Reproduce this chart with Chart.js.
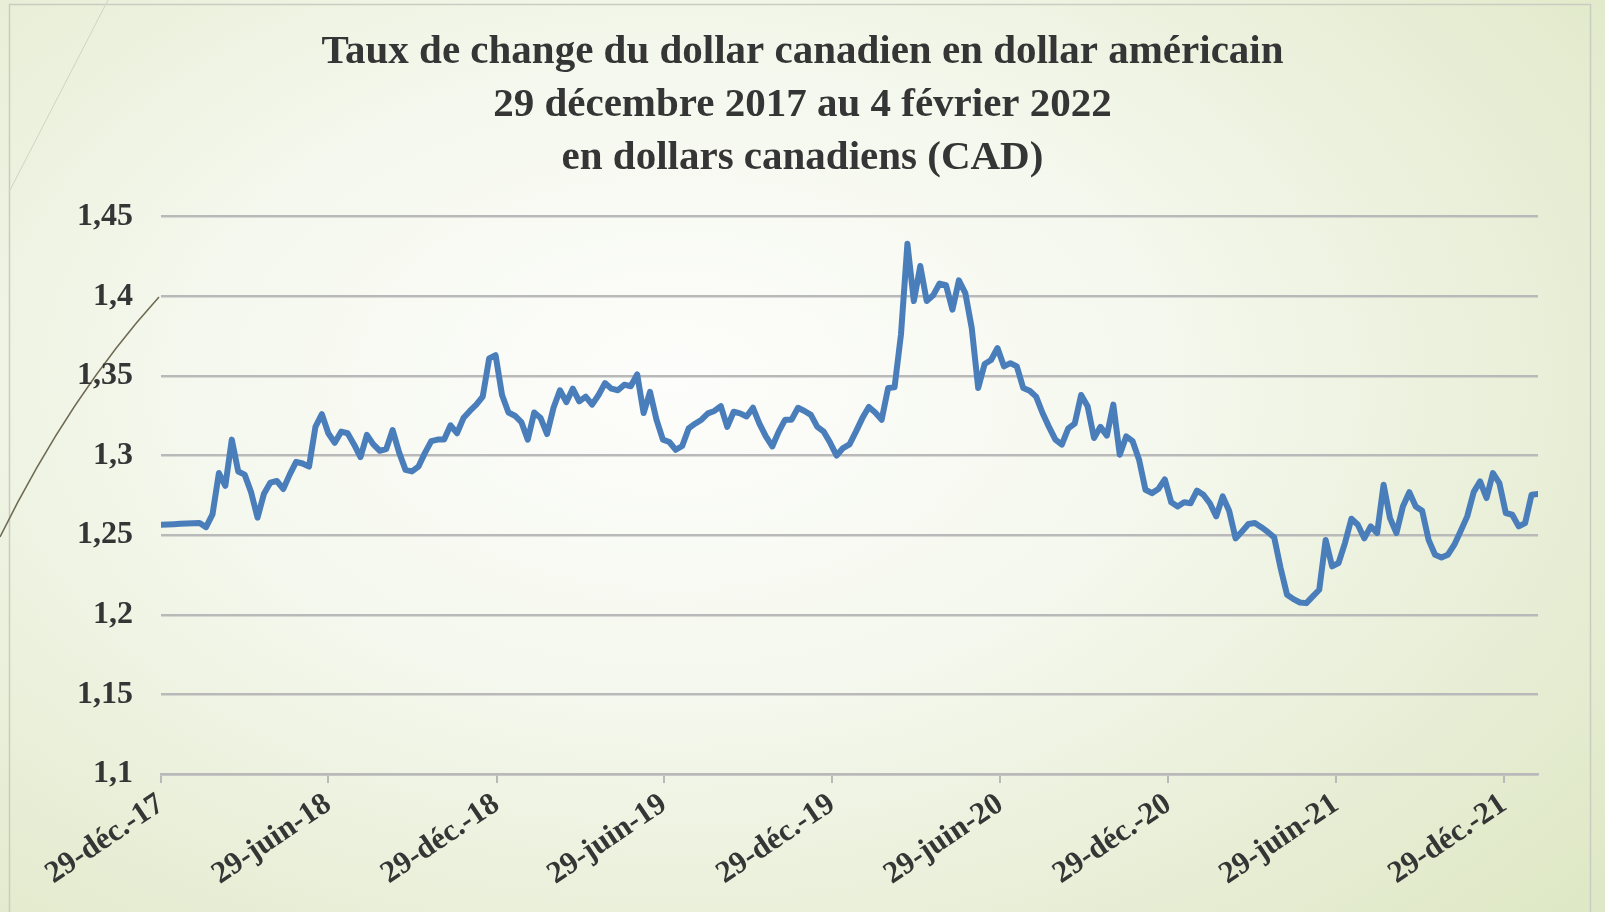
<!DOCTYPE html>
<html lang="fr">
<head>
<meta charset="utf-8">
<title>Taux de change CAD / USD</title>
<script src="https://cdn.jsdelivr.net/npm/chart.js@4/dist/chart.umd.min.js"></script>
<style>
  html, body { margin: 0; padding: 0; }
  body {
    width: 1605px; height: 912px; overflow: hidden;
    background: radial-gradient(ellipse 75% 85% at 42% 42%, #fdfdfb 0%, #f5f8ee 40%, #e8eed6 75%, #dfe8c6 100%);
  }
  .frame { position: relative; width: 1605px; height: 912px; }
</style>
</head>
<body>
<div class="frame"><canvas id="fx"></canvas></div>
<script>
/* Taux de change CAD/USD, hebdomadaire, 29 déc. 2017 -> 4 févr. 2022 */

// ── Data ───────────────────────────────────────────────────────────────────

const START_DATE = '2017-12-29';   // first weekly observation
const END_DATE   = '2022-02-04';   // last weekly observation

const rates = [
  1.2565, 1.2567, 1.2569, 1.2571, 1.2573, 1.2575, 1.2576, 1.255, 1.263, 1.289,
  1.281, 1.310, 1.290, 1.288, 1.277, 1.261, 1.276, 1.283, 1.284, 1.279,
  1.288, 1.296, 1.295, 1.293, 1.318, 1.326, 1.314, 1.308, 1.315, 1.314,
  1.307, 1.299, 1.313, 1.307, 1.303, 1.304, 1.316,
  1.302, 1.291, 1.290, 1.293, 1.3015, 1.309, 1.310, 1.310, 1.319, 1.314,
  1.3235, 1.328, 1.332, 1.337, 1.361, 1.363, 1.338, 1.327, 1.325, 1.321,
  1.310, 1.327, 1.3235, 1.3135, 1.330, 1.341, 1.3335, 1.342, 1.334, 1.337,
  1.332, 1.338, 1.3455, 1.342, 1.341,
  1.3445, 1.3435, 1.351, 1.3267, 1.340, 1.3225, 1.310, 1.3085, 1.3036, 1.306,
  1.317, 1.320, 1.3225, 1.3265, 1.328, 1.331, 1.318, 1.3275, 1.3265, 1.3245,
  1.330, 1.320, 1.312, 1.3057, 1.315, 1.3225, 1.3225, 1.330, 1.328, 1.3255,
  1.318, 1.315, 1.308, 1.300, 1.3047, 1.307,
  1.315, 1.3235, 1.3305, 1.327, 1.3225, 1.3424, 1.3428, 1.376, 1.433, 1.397,
  1.419, 1.397, 1.4006, 1.408, 1.407, 1.3916, 1.410, 1.402, 1.380, 1.3424,
  1.3575, 1.360, 1.3675, 1.356, 1.358, 1.356, 1.3424, 1.3407, 1.337, 1.3267,
  1.318, 1.310, 1.3068, 1.317, 1.320, 1.338,
  1.331, 1.311, 1.318, 1.3125, 1.332, 1.3005, 1.312, 1.309, 1.2974, 1.2785,
  1.2764, 1.279, 1.285, 1.2706, 1.268, 1.2706, 1.270, 1.278, 1.2754, 1.270,
  1.2618, 1.2743, 1.2653, 1.248, 1.2523, 1.257, 1.2576, 1.255, 1.252, 1.2486,
  1.2293, 1.2126, 1.2098, 1.2077, 1.2073, 1.2115,
  1.2157, 1.247, 1.2304, 1.2325, 1.245, 1.2603, 1.2565, 1.248, 1.2555, 1.2513,
  1.2817, 1.2607, 1.2513, 1.268, 1.277, 1.268, 1.2653, 1.247, 1.2377, 1.236,
  1.2377, 1.244, 1.2528, 1.2618, 1.277, 1.2838, 1.2733, 1.289, 1.2827, 1.2639,
  1.2628, 1.2555, 1.2576, 1.2754, 1.2758
];

const tickDates  = ['2017-12-29', '2018-06-29', '2018-12-29', '2019-06-29', '2019-12-29',
                    '2020-06-29', '2020-12-29', '2021-06-29', '2021-12-29'];
const tickLabels = ['29-déc.-17', '29-juin-18', '29-déc.-18', '29-juin-19', '29-déc.-19',
                    '29-juin-20', '29-déc.-20', '29-juin-21', '29-déc.-21'];

const yTicks = { min: 1.1, max: 1.45, step: 0.05 };

const titleLines = [
  'Taux de change du dollar canadien en dollar américain',
  '29 décembre 2017 au 4 février 2022',
  'en dollars canadiens (CAD)'
];

// ── Helpers ────────────────────────────────────────────────────────────────

const DAY = 86400000;
const dayOf = (iso) => Math.round((Date.parse(iso) - Date.parse(START_DATE)) / DAY);
const lastDay = dayOf(END_DATE);
const points  = rates.map((v, i) => ({ x: i * 7, y: v }));   // weekly series
const tickDays = tickDates.map(dayOf);

const SERIF    = "'Liberation Serif', 'DejaVu Serif', serif";
const TEXT     = '#353535';
const GRID     = '#b9b9b9';
const LINE     = '#4a7ebb';
const SIDE     = 67;   // same margin both sides so the title stays centred on the slide

// ── Slide decoration (frame + thin strokes of the theme) ───────────────────

const decor = {
  id: 'decor',
  beforeDraw(chart) {
    const c = chart.ctx;
    c.save();
    c.strokeStyle = '#c9ccc0';
    c.lineWidth = 1.5;
    c.strokeRect(9.5, 4.5, 1581, 930);
    c.strokeStyle = '#cfd3c4';
    c.lineWidth = 1;
    c.beginPath(); c.moveTo(108, 0); c.lineTo(9, 192); c.stroke();
    c.strokeStyle = '#6f6a52';
    c.lineWidth = 1.6;
    c.beginPath(); c.moveTo(159, 297); c.quadraticCurveTo(70, 395, 0, 537); c.stroke();
    c.restore();
  }
};

// ── Chart ──────────────────────────────────────────────────────────────────

new Chart(document.getElementById('fx'), {
  type: 'line',
  data: {
    datasets: [{
      label: 'CAD/USD',
      data: points,
      borderColor: LINE,
      borderWidth: 6,
      pointRadius: 0,
      tension: 0,
      borderJoinStyle: 'round',
      borderCapStyle: 'round'
    }]
  },
  options: {
    responsive: true,
    maintainAspectRatio: false,
    animation: false,
    layout: { padding: { left: SIDE, right: SIDE, top: 0, bottom: 0 } },
    plugins: {
      legend: { display: false },
      tooltip: { enabled: false },
      title: {
        display: true,
        text: titleLines,
        color: TEXT,
        font: { family: SERIF, size: 41, weight: 'bold', lineHeight: 1.29 },
        padding: { top: 26, bottom: 32 }
      }
    },
    scales: {
      x: {
        type: 'linear',
        min: 0,
        max: lastDay,
        afterBuildTicks: (s) => { s.ticks = tickDays.map(v => ({ value: v })); },
        afterFit: (s) => { s.height = 912 - 774; },
        grid: { drawOnChartArea: false, drawTicks: true, tickLength: 9, color: GRID, lineWidth: 2 },
        border: { display: true, color: GRID, width: 2.5 },
        ticks: {
          autoSkip: false,
          minRotation: 34,
          maxRotation: 34,
          padding: 3,
          color: TEXT,
          font: { family: SERIF, size: 31, weight: 'bold' },
          callback: (v) => tickLabels[tickDays.indexOf(v)] ?? ''
        }
      },
      y: {
        min: yTicks.min,
        max: yTicks.max,
        afterFit: (s) => { s.width = 161 - SIDE; },
        grid: { color: GRID, lineWidth: 2.5, drawTicks: false },
        border: { display: false },
        ticks: {
          stepSize: yTicks.step,
          padding: 28,
          color: TEXT,
          font: { family: SERIF, size: 32, weight: 'bold' },
          callback: (v) => String(Number(v.toFixed(2))).replace('.', ',')
        }
      }
    }
  },
  plugins: [decor]
});
</script>
</body>
</html>
